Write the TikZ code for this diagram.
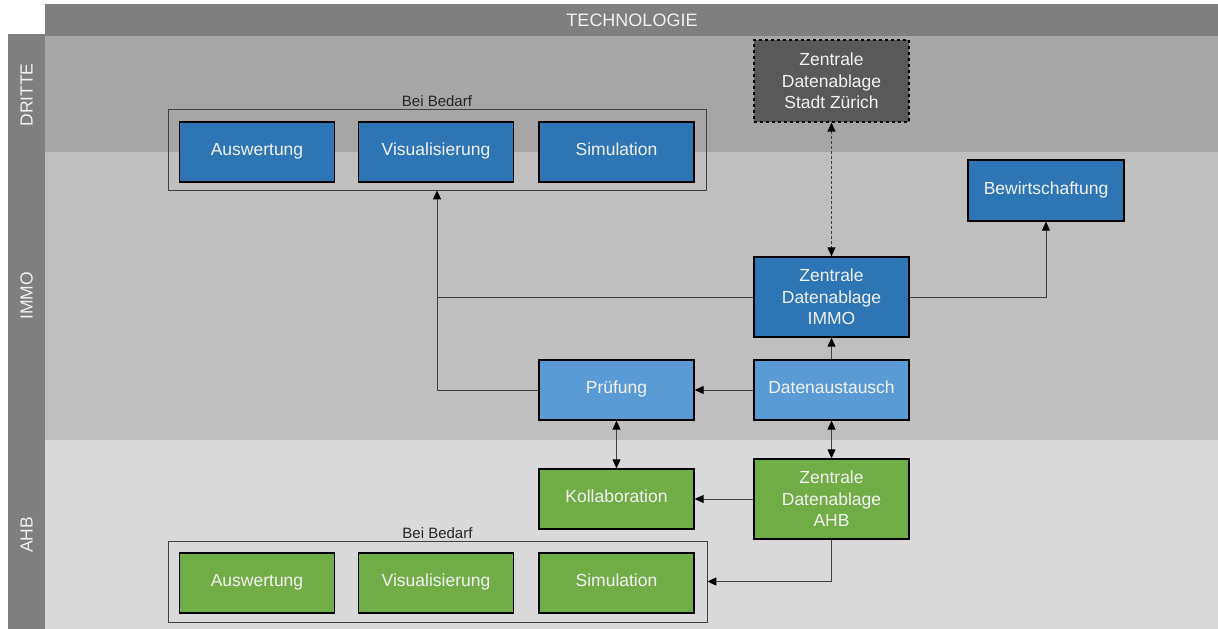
\documentclass[tikz,border=0pt]{standalone}
\usepackage{fontspec}
\setmainfont{Liberation Sans}
\usetikzlibrary{arrows.meta}
\definecolor{hdr}{HTML}{7F7F7F}
\definecolor{laneD}{HTML}{A6A6A6}
\definecolor{laneI}{HTML}{BFBFBF}
\definecolor{laneA}{HTML}{D9D9D9}
\definecolor{dblue}{HTML}{2E75B6}
\definecolor{lblue}{HTML}{5B9BD5}
\definecolor{grn}{HTML}{70AD47}
\definecolor{dgray}{HTML}{595959}
\definecolor{txtw}{HTML}{F2F2F2}
\definecolor{linec}{HTML}{404040}
\tikzset{
  base/.style={draw=black, line width=1.3pt, text=txtw, align=center,
    font=\fontsize{17.5}{21.5}\selectfont, inner sep=0pt},
  one/.style={base, text height=0.72em, text depth=0em, minimum width=155pt, minimum height=60pt},
  bbox/.style={one, fill=dblue},
  lbox/.style={one, fill=lblue},
  gbox/.style={one, fill=grn},
  multi/.style={base, minimum width=155pt, minimum height=80pt},
  frame/.style={draw=linec, line width=0.8pt, inner sep=0pt},
  frlabel/.style={font=\fontsize{15}{18}\selectfont, text=black!85, anchor=south, inner sep=2pt},
  lanelabel/.style={rotate=90, text=txtw, font=\fontsize{17.5}{21}\selectfont, inner sep=0pt},
  conn/.style={draw=linec, line width=0.9pt},
  tip/.style={-{Triangle[length=9pt,width=8pt,color=black]}},
  tips/.style={{Triangle[length=9pt,width=8pt,color=black]}-{Triangle[length=9pt,width=8pt,color=black]}},
}
\begin{document}
\begin{tikzpicture}[x=1pt,y=-1pt]
\useasboundingbox (0,0) rectangle (1218,629);
% lanes
\fill[laneD] (45,36) rectangle (1218,152);
\fill[laneI] (45,152) rectangle (1218,440);
\fill[laneA] (45,440) rectangle (1218,629);
\fill[hdr] (8,34) rectangle (45,629);
\fill[hdr] (45,4) rectangle (1218,36);
\node[text=txtw, font=\fontsize{18}{21}\selectfont] (tech) at (632,20) {TECHNOLOGIE};
\node[lanelabel] (lD) at (26.5,95) {DRITTE};
\node[lanelabel] (lI) at (26.5,296) {IMMO};
\node[lanelabel] (lA) at (26.5,535) {AHB};
% DRITTE group
\node[frame, minimum width=538pt, minimum height=81pt] (gD) at (437,149.5) {};
\node[frlabel] (gDl) at (gD.north) {Bei Bedarf};
\node[bbox] (ausD) at (257,152) {Auswertung};
\node[bbox] (visD) at (436,152) {Visualisierung};
\node[bbox] (simD) at (616.5,152) {Simulation};
\node[multi, fill=dgray, dashed, minimum height=82pt] (stadt) at (831.5,81) {Zentrale\\Datenablage\\Stadt Zürich};
% IMMO
\node[bbox, minimum width=156pt, minimum height=61pt] (bew) at (1046,190.5) {Bewirtschaftung};
\node[multi, fill=dblue] (immo) at (831.5,297) {Zentrale\\Datenablage\\IMMO};
\node[lbox] (daten) at (831.5,390) {Datenaustausch};
\node[lbox] (pruef) at (616.5,390) {Prüfung};
% AHB
\node[gbox] (koll) at (616.5,499) {Kollaboration};
\node[multi, fill=grn] (ahb) at (831.5,499) {Zentrale\\Datenablage\\AHB};
\node[frame, minimum width=539pt, minimum height=81pt] (gA) at (437.5,581.5) {};
\node[frlabel] (gAl) at (gA.north) {Bei Bedarf};
\node[gbox] (ausA) at (257,583) {Auswertung};
\node[gbox] (visA) at (436,583) {Visualisierung};
\node[gbox] (simA) at (616.5,583) {Simulation};
% connectors
\coordinate (jn) at (gD.south |- immo.west);
\draw[conn, tips, dash pattern=on 3pt off 2pt] (stadt) -- (immo);
\draw[conn, tip] (immo.east) -| (bew.south);
\draw[conn, tip] (immo.west) -| (gD.south);
\draw[conn] (pruef.west) -| (jn);
\draw[conn, tip] (daten) -- (immo);
\draw[conn, tip] (daten) -- (pruef);
\draw[conn, tips] (daten) -- (ahb);
\draw[conn, tips] (pruef) -- (koll);
\draw[conn, tip] (ahb) -- (koll);
\draw[conn, tip] (ahb.south) |- (gA.east);
\end{tikzpicture}
\end{document}
